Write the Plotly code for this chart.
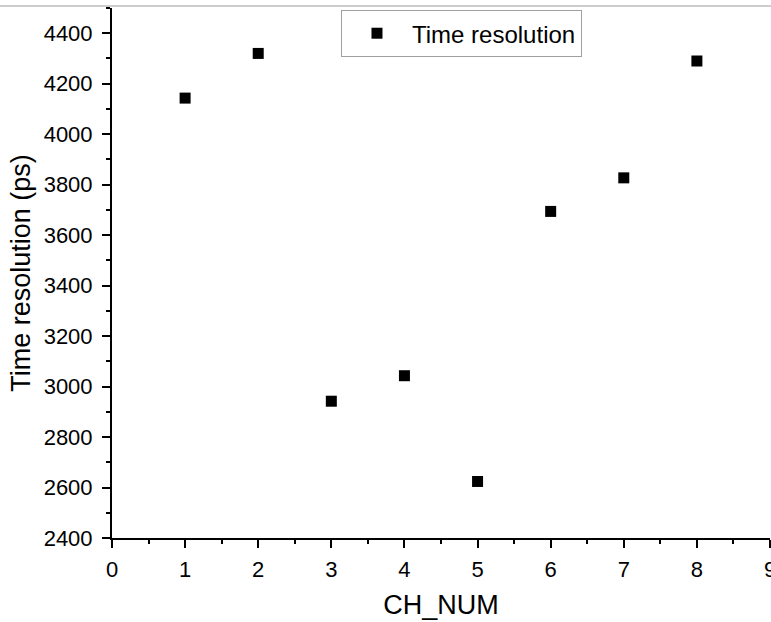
import plotly.graph_objects as go

ch_num = [1, 2, 3, 4, 5, 6, 7, 8]
time_resolution = [4143, 4320, 2942, 3043, 2624, 3694, 3827, 4290]
series_name = "Time resolution"
x_title = "CH_NUM"
y_title = "Time resolution (ps)"

FONT = "Arial, Liberation Sans, sans-serif"

fig = go.Figure()
fig.add_trace(go.Scatter(
    x=ch_num, y=time_resolution, mode="markers", name=series_name,
    marker=dict(symbol="square", size=11, color="black"),
    showlegend=True,
))

axis_common = dict(
    showline=True, linecolor="black", linewidth=2,
    ticks="outside", ticklen=8, tickwidth=2, tickcolor="black",
    showgrid=False, zeroline=False, automargin=False,
    tickfont=dict(family=FONT, size=22, color="black"),
)

fig.update_xaxes(
    range=[0, 9], tick0=0, dtick=1,
    minor=dict(ticks="outside", ticklen=4, tickwidth=2, tickcolor="black", dtick=0.5, showgrid=False),
    title=dict(text=x_title, font=dict(family=FONT, size=27, color="black"), standoff=14),
    ticklabelstandoff=3,
    ticklabeloverflow="allow",
    **axis_common,
)
fig.update_yaxes(
    range=[2400, 4500], tick0=2400, dtick=200,
    minor=dict(ticks="outside", ticklen=4, tickwidth=2, tickcolor="black", dtick=100, showgrid=False),
    title=dict(text=y_title, font=dict(family=FONT, size=27, color="black"), standoff=5),
    ticklabelstandoff=5,
    **axis_common,
)

fig.add_shape(type="line", xref="paper", yref="paper", x0=-0.2, x1=1.1,
              y0=1.004, y1=1.004, line=dict(color="#bdbdbd", width=1.5))

fig.update_layout(
    template="none",
    width=771, height=622,
    margin=dict(l=112, r=1, t=8, b=84),
    paper_bgcolor="white", plot_bgcolor="white",
    legend=dict(
        x=0.348, y=0.996, xanchor="left", yanchor="top",
        bordercolor="#a0a0a0", borderwidth=1, bgcolor="white",
        font=dict(family=FONT, size=24, color="black"),
        itemwidth=60,
    ),
)

fig.write_html("out.html", config={"displayModeBar": False},
               post_script="document.body.style.margin='0';")
